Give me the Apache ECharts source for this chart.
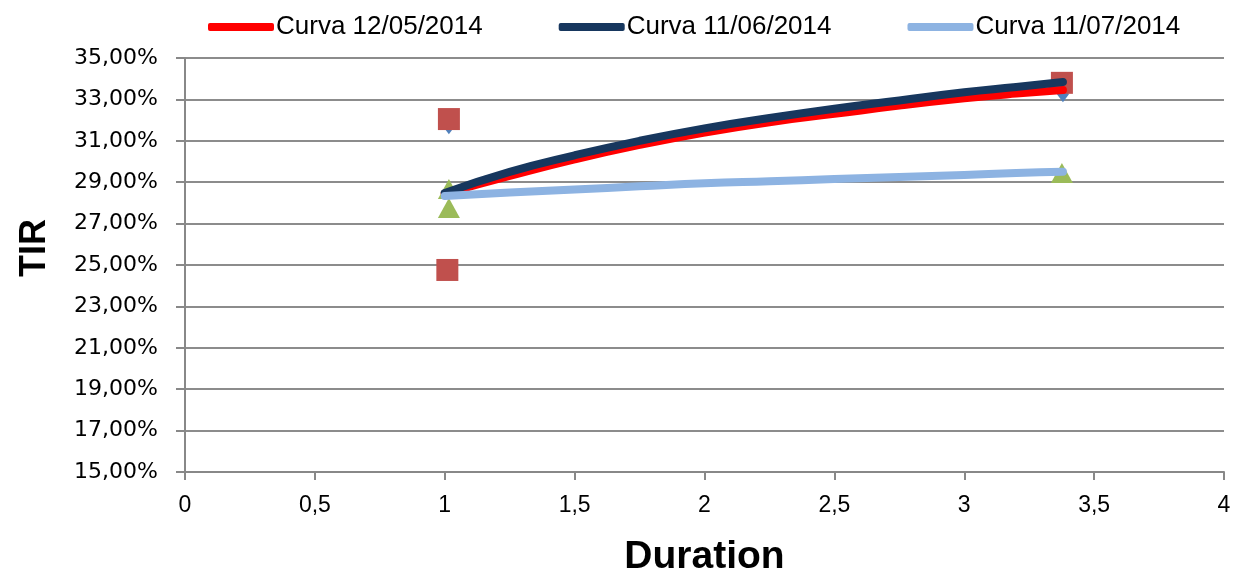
<!DOCTYPE html>
<html><head><meta charset="utf-8">
<script src="https://cdn.jsdelivr.net/npm/echarts@6/dist/echarts.min.js"></script>
<style>html,body{margin:0;padding:0;background:#fff}#c{width:1234px;height:574px}</style>
</head><body><div id="c"></div>
<script>
// Curve data (x = Duration, y = TIR %)
const curveX = [1.0, 1.25, 1.5, 1.75, 2.0, 2.25, 2.5, 2.75, 3.0, 3.2, 3.38];
const curva1205 = [28.45, 29.3, 30.1, 30.8, 31.4, 31.9, 32.3, 32.7, 33.05, 33.28, 33.45];
const curva1106 = [28.48, 29.5, 30.3, 31.0, 31.6, 32.1, 32.55, 32.95, 33.35, 33.6, 33.84];
const curva1107 = [28.33, 28.5, 28.65, 28.8, 28.95, 29.05, 29.15, 29.25, 29.35, 29.45, 29.5];
// Observed points
const diamondX = [1.016, 3.38];
const diamondY = [31.7, 33.25];
const squareX = [1.016, 1.01, 3.376];
const squareY = [32.05, 24.76, 33.8];
const triangleX = [1.016, 1.016, 3.376];
const triangleY = [28.67, 27.75, 29.45];
const legendNames = ['Curva 12/05/2014', 'Curva 11/06/2014', 'Curva 11/07/2014'];
const yTicks = {min: 15, max: 35, interval: 2};
const xTicks = {min: 0, max: 4, interval: 0.5};

const zip = (xs, ys) => xs.map((x, i) => [x, ys[i]]);
const chart = echarts.init(document.getElementById('c'));
const lineSeries = (name, ys, color) => ({
  name, type: 'line', data: zip(curveX, ys), showSymbol: false, symbol: 'none', smooth: true,
  lineStyle: {color, width: 8, cap: 'round', join: 'round'}, itemStyle: {color}, z: 10
});
chart.setOption({
  animation: false,
  grid: {left: 185, right: 10, top: 58, bottom: 102, containLabel: false, outerBoundsMode: 'none'},
  legend: {
    top: 9, left: 203, itemWidth: 66, itemHeight: 8, itemGap: 76,
    textStyle: {fontFamily: 'Liberation Sans', fontSize: 26, color: '#000', padding: [0, 0, 0, -3]},
    data: legendNames.map(n => ({name: n, icon: 'roundRect'}))
  },
  xAxis: {
    type: 'value', min: xTicks.min, max: xTicks.max, interval: xTicks.interval,
    name: 'Duration', nameLocation: 'middle', nameGap: 66,
    nameTextStyle: {fontFamily: 'Liberation Sans', fontWeight: 'bold', fontSize: 39, color: '#000'},
    axisLine: {lineStyle: {color: '#888', width: 2}},
    axisTick: {show: true, length: 8, lineStyle: {color: '#888', width: 2}},
    axisLabel: {fontFamily: 'Liberation Sans', fontSize: 23, color: '#000', margin: 22,
      formatter: v => String(v).replace('.', ',')},
    splitLine: {show: false}
  },
  yAxis: {
    type: 'value', min: yTicks.min, max: yTicks.max, interval: yTicks.interval,
    name: 'TIR', nameLocation: 'middle', nameGap: 132, nameRotate: 90,
    nameTextStyle: {fontFamily: 'Liberation Sans', fontWeight: 'bold', fontSize: 36, color: '#000', padding: [0, 0, 0, 34]},
    axisLine: {show: true, lineStyle: {color: '#888', width: 2}},
    axisTick: {show: true, length: 9, lineStyle: {color: '#888', width: 2}},
    axisLabel: {fontFamily: 'DejaVu Sans', fontSize: 22, color: '#000', margin: 27,
      formatter: v => v.toFixed(2).replace('.', ',') + '%'},
    splitLine: {lineStyle: {color: '#8c8c8c', width: 2}}
  },
  series: [
    {type: 'scatter', data: zip(diamondX, diamondY), symbol: 'diamond', symbolSize: [12, 16], itemStyle: {color: '#4f81bd', opacity: 1}, z: 2},
    {type: 'scatter', data: zip(squareX, squareY), symbol: 'rect', symbolSize: 22, itemStyle: {color: '#c0504d', opacity: 1}, z: 3},
    {type: 'scatter', data: zip(triangleX, triangleY), symbol: 'triangle', symbolSize: [22, 20], itemStyle: {color: '#9bbb59', opacity: 1}, z: 4},
    lineSeries(legendNames[0], curva1205, '#ff0000'),
    lineSeries(legendNames[1], curva1106, '#17375e'),
    lineSeries(legendNames[2], curva1107, '#8db3e2')
  ]
});
</script></body></html>
